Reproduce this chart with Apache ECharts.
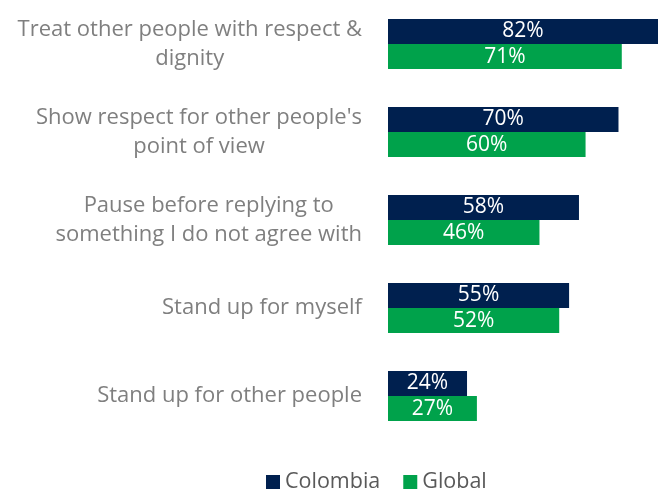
<!DOCTYPE html>
<html>
<head>
<meta charset="utf-8">
<style>
  html, body { margin: 0; padding: 0; background: #ffffff; }
  #chart { width: 663px; height: 489px; }
</style>
<script src="https://cdn.jsdelivr.net/npm/echarts@6/dist/echarts.min.js"></script>
</head>
<body>
<div id="chart"></div>
<script>
// Behaviours asked about, top to bottom
const categories = [
  "Treat other people with respect &\ndignity",
  "Show respect for other people's\npoint of view",
  "Pause before replying to\nsomething I do not agree with",
  "Stand up for myself",
  "Stand up for other people"
];
const colombia = [82, 70, 58, 55, 24];
const globalShare = [71, 60, 46, 52, 27];
const seriesNames = ["Colombia", "Global"];

const NAVY = "#00204f";
const GREEN = "#00a24b";
const FONT = "'Open Sans', 'Noto Sans', sans-serif";

const chart = echarts.init(document.getElementById("chart"));

const barLabel = {
  show: true,
  position: "inside",
  formatter: p => p.value + "%",
  color: "#ffffff",
  fontFamily: FONT,
  fontSize: 21
};

chart.setOption({
  animation: false,
  backgroundColor: "#ffffff",
  grid: { left: 388, right: 5, top: -7, bottom: 49, containLabel: false },
  xAxis: {
    type: "value",
    min: 0,
    max: 82,
    show: false
  },
  yAxis: {
    type: "category",
    inverse: true,
    data: categories,
    axisLine: { show: false },
    axisTick: { show: false },
    splitLine: { show: false },
    axisLabel: {
      margin: 26,
      align: "right",
      fontFamily: FONT,
      fontSize: 22,
      lineHeight: 29,
      color: "#7f7f7f",
      formatter: v => v.split("\n").map(s => "{c|" + s + "}").join("\n"),
      rich: {
        c: { align: "center", fontFamily: FONT, fontSize: 22, lineHeight: 29, color: "#7f7f7f" }
      }
    }
  },
  legend: {
    bottom: -9,
    left: 261,
    itemWidth: 14,
    itemHeight: 14,
    itemGap: 23,
    icon: "rect",
    textStyle: { fontFamily: FONT, fontSize: 21.5, color: "#595959" },
    data: seriesNames
  },
  series: [
    {
      name: seriesNames[0],
      type: "bar",
      data: colombia,
      itemStyle: { color: NAVY },
      label: barLabel,
      barGap: "0%",
      barCategoryGap: "43%"
    },
    {
      name: seriesNames[1],
      type: "bar",
      data: globalShare,
      itemStyle: { color: GREEN },
      label: barLabel,
      barGap: "0%",
      barCategoryGap: "43%"
    }
  ]
});
</script>
</body>
</html>
